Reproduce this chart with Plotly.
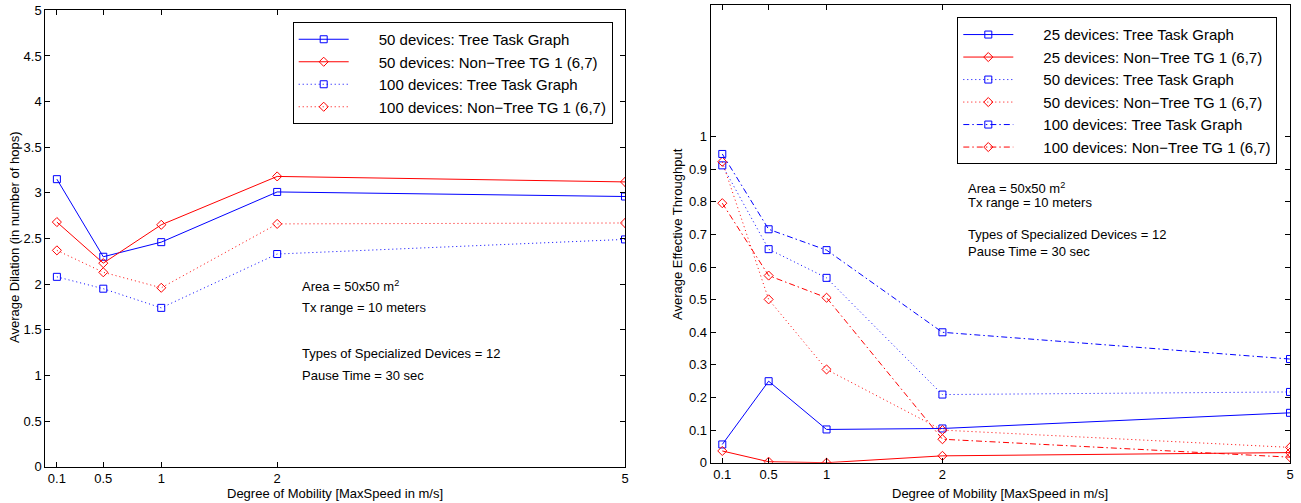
import plotly.graph_objects as go

# ---------------- data ----------------
mobility = [0.1, 0.5, 1, 2, 5]
mobility_ticks = ["0.1", "0.5", "1", "2", "5"]

# left: Average Dilation
dil_50_tree = [3.15, 2.30, 2.46, 3.01, 2.96]
dil_50_nontree = [2.68, 2.23, 2.65, 3.18, 3.12]
dil_100_tree = [2.08, 1.95, 1.74, 2.33, 2.49]
dil_100_nontree = [2.37, 2.13, 1.96, 2.66, 2.67]

# right: Average Effective Throughput
thr_25_tree = [0.056, 0.25, 0.102, 0.105, 0.153]
thr_25_nontree = [0.036, 0.003, 0.0, 0.021, 0.031]
thr_50_tree = [0.912, 0.655, 0.567, 0.209, 0.217]
thr_50_nontree = [0.923, 0.501, 0.286, 0.100, 0.047]
thr_100_tree = [0.947, 0.716, 0.652, 0.400, 0.318]
thr_100_nontree = [0.796, 0.574, 0.506, 0.072, 0.017]

dil_ticks = [0, 0.5, 1, 1.5, 2, 2.5, 3, 3.5, 4, 4.5, 5]
dil_tick_text = ["0", "0.5", "1", "1.5", "2", "2.5", "3", "3.5", "4", "4.5", "5"]
thr_ticks = [0, 0.1, 0.2, 0.3, 0.4, 0.5, 0.6, 0.7, 0.8, 0.9, 1]
thr_tick_text = ["0", "0.1", "0.2", "0.3", "0.4", "0.5", "0.6", "0.7", "0.8", "0.9", "1"]

BLUE = "#0000ff"
RED = "#ff0000"
FONT = "Liberation Sans, Arial, Helvetica, sans-serif"
DOT = "1px,3px"
DASHDOT = "6px,3px,1.5px,3px"
PAD = "\u00a0" * 6

fig = go.Figure()


def add(x, y, name, color, dash, symbol, xa, ya, legend):
    fig.add_trace(go.Scatter(
        x=x, y=y, name=PAD + name, mode="lines+markers",
        line=dict(color=color, width=1, dash=dash),
        marker=dict(symbol=symbol, size=7,
                    color=color, line=dict(color=color, width=1)),
        xaxis=xa, yaxis=ya, legend=legend,
    ))


add(mobility, dil_50_tree, "50 devices: Tree Task Graph", BLUE, "solid", "square-open", "x", "y", "legend")
add(mobility, dil_50_nontree, "50 devices: Non\u2212Tree TG 1 (6,7)", RED, "solid", "diamond-open", "x", "y", "legend")
add(mobility, dil_100_tree, "100 devices: Tree Task Graph", BLUE, DOT, "square-open", "x", "y", "legend")
add(mobility, dil_100_nontree, "100 devices: Non\u2212Tree TG 1 (6,7)", RED, DOT, "diamond-open", "x", "y", "legend")

add(mobility, thr_25_tree, "25 devices: Tree Task Graph", BLUE, "solid", "square-open", "x2", "y2", "legend2")
add(mobility, thr_25_nontree, "25 devices: Non\u2212Tree TG 1 (6,7)", RED, "solid", "diamond-open", "x2", "y2", "legend2")
add(mobility, thr_50_tree, "50 devices: Tree Task Graph", BLUE, DOT, "square-open", "x2", "y2", "legend2")
add(mobility, thr_50_nontree, "50 devices: Non\u2212Tree TG 1 (6,7)", RED, DOT, "diamond-open", "x2", "y2", "legend2")
add(mobility, thr_100_tree, "100 devices: Tree Task Graph", BLUE, DASHDOT, "square-open", "x2", "y2", "legend2")
add(mobility, thr_100_nontree, "100 devices: Non\u2212Tree TG 1 (6,7)", RED, DASHDOT, "diamond-open", "x2", "y2", "legend2")

W, H = 1301, 503

axis_common = dict(
    showline=True, linecolor="black", linewidth=1, mirror="ticks",
    ticks="inside", ticklen=5, tickcolor="black", tickwidth=1,
    showgrid=False, zeroline=False, automargin=False,
    tickfont=dict(family=FONT, size=13, color="black"),
)

fig.update_layout(
    width=W, height=H,
    margin=dict(l=0, r=0, t=0, b=0),
    paper_bgcolor="white", plot_bgcolor="white",
    font=dict(family=FONT, size=12, color="black"),
    xaxis=dict(domain=[45.3 / W, 625 / W], range=[0, 5], tickvals=mobility,
               ticktext=mobility_ticks, anchor="y", **axis_common),
    yaxis=dict(domain=[1 - 466.7 / H, 1 - 10.3 / H], range=[0, 5], tickvals=dil_ticks,
               ticktext=dil_tick_text, anchor="x", **axis_common),
    xaxis2=dict(domain=[710.7 / W, 1290 / W], range=[0, 5], tickvals=mobility,
                ticktext=mobility_ticks, anchor="y2", **axis_common),
    yaxis2=dict(domain=[1 - 462.7 / H, 1 - 5.3 / H], range=[0, 1.403], tickvals=thr_ticks,
                ticktext=thr_tick_text, anchor="x2", **axis_common),
    legend=dict(x=292.7 / W, y=1 - 22 / H, xanchor="left", yanchor="top",
                bordercolor="black", borderwidth=1, bgcolor="white",
                font=dict(family=FONT, size=15, color="black"),
                itemwidth=50, tracegroupgap=0),
    legend2=dict(x=957.3 / W, y=1 - 17.3 / H, xanchor="left", yanchor="top",
                 bordercolor="black", borderwidth=1, bgcolor="white",
                 font=dict(family=FONT, size=15, color="black"),
                 itemwidth=50, tracegroupgap=0),
    showlegend=True,
)

ann = []
# axis titles
ann.append(dict(text="Degree of Mobility [MaxSpeed in m/s]", xref="paper", yref="paper",
                x=335 / W, y=1 - 493 / H, xanchor="center", yanchor="middle",
                showarrow=False, font=dict(size=13)))
ann.append(dict(text="Degree of Mobility [MaxSpeed in m/s]", xref="paper", yref="paper",
                x=1000 / W, y=1 - 493 / H, xanchor="center", yanchor="middle",
                showarrow=False, font=dict(size=13)))
ann.append(dict(text="Average Dilation (in number of hops)", xref="paper", yref="paper",
                x=14 / W, y=1 - 237 / H, xanchor="center", yanchor="middle",
                showarrow=False, textangle=-90, font=dict(size=13)))
ann.append(dict(text="Average Effective Throughput", xref="paper", yref="paper",
                x=678 / W, y=1 - 234 / H, xanchor="center", yanchor="middle",
                showarrow=False, textangle=-90, font=dict(size=13)))

# info text
left_info = [("Area = 50x50 m<sup>2</sup>", 1.98), ("Tx range = 10 meters", 1.74),
             ("Types of Specialized Devices = 12", 1.24), ("Pause Time = 30 sec", 1.0)]
for t, yy in left_info:
    ann.append(dict(text=t, xref="x", yref="y", x=2.2, y=yy, xanchor="left",
                    showarrow=False, font=dict(size=13)))
right_info = [("Area = 50x50 m<sup>2</sup>", 0.843), ("Tx range = 10 meters", 0.797),
              ("Types of Specialized Devices = 12", 0.699), ("Pause Time = 30 sec", 0.647)]
for t, yy in right_info:
    ann.append(dict(text=t, xref="x2", yref="y2", x=2.2, y=yy, xanchor="left",
                    showarrow=False, font=dict(size=13)))

fig.update_layout(annotations=ann)

fig.write_html("out.html")
